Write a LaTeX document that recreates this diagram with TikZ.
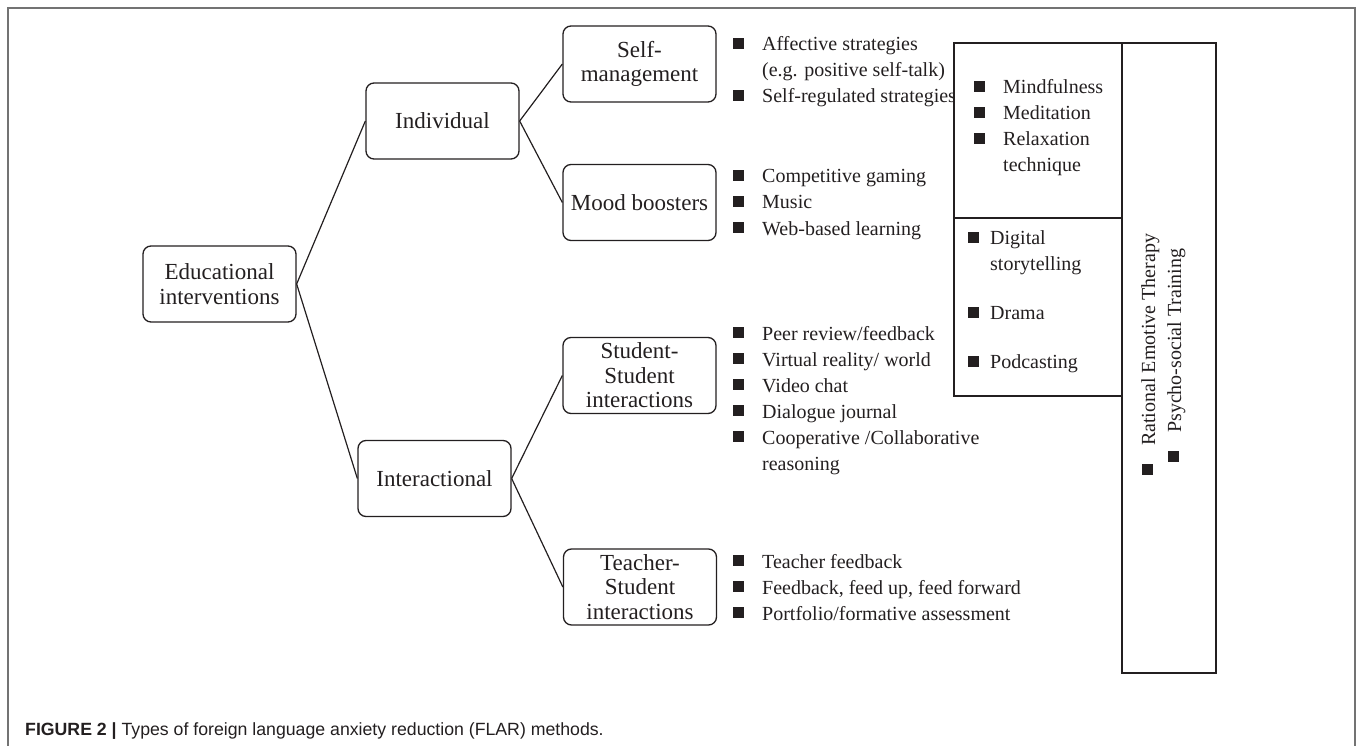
\documentclass[tikz,border=0pt]{standalone}
\usepackage{fontspec}
\setmainfont{Liberation Serif}
\newfontfamily\capfont{Liberation Sans}
\definecolor{ink}{HTML}{231F20}
\newcommand{\bul}{\makebox[29pt][l]{\raisebox{2pt}{\rule{11pt}{11pt}}}}
\newcommand{\bulb}{\makebox[22pt][l]{\raisebox{1.5pt}{\rule{11pt}{11pt}}}}
\begin{document}
\begin{tikzpicture}[x=1pt,y=-1pt,
  box/.style={draw=ink, line width=1.3pt, rounded corners=8pt, minimum width=153pt, minimum height=76pt, inner sep=0pt, align=center, font=\fontsize{23}{24.5}\selectfont, text=ink},
  conn/.style={draw=ink, line width=1.2pt},
  item/.style={anchor=base west, inner sep=0pt, font=\fontsize{20}{26}\selectfont, text=ink},
  panel/.style={draw=ink, line width=1.2pt},
  frame/.style={draw=black!55, line width=1.5pt}]
\useasboundingbox (0,0) rectangle (1357,746);
\draw[frame] (8,746) -- (8,8) -- (1355,8) -- (1355,746);

\node[box] (edu) at (219.5,284) {Educational\\interventions};
\node[box] (ind) at (442.5,121) {Individual};
\node[box] (int) at (434.5,478.5) {Interactional};
\node[box] (self) at (639.5,64) {Self-\\management};
\node[box] (mood) at (639.5,202.5) {Mood boosters};
\node[box] (ss) at (639.5,375.5) {Student-\\Student\\interactions};
\node[box] (ts) at (640,587) {Teacher-\\Student\\interactions};

\draw[conn] (edu.east) -- (ind.west);
\draw[conn] (edu.east) -- (int.west);
\draw[conn] (ind.east) -- (self.west);
\draw[conn] (ind.east) -- (mood.west);
\draw[conn] (int.east) -- (ss.west);
\draw[conn] (int.east) -- (ts.west);

\node[item] (a1) at (733,51) {\bul Affective strategies};
\node[item] (a2) at (762,77) {(e.g. positive self-talk)};
\node[item] (a3) at (733,103) {\bul Self-regulated strategies};

\node[item] (m1) at (733,183) {\bul Competitive gaming};
\node[item] (m2) at (733,209) {\bul Music};
\node[item] (m3) at (733,235) {\bul Web-based learning};

\node[item] (s1) at (733,340) {\bul Peer review/feedback};
\node[item] (s2) at (733,366) {\bul Virtual reality/ world};
\node[item] (s3) at (733,392) {\bul Video chat};
\node[item] (s4) at (733,418) {\bul Dialogue journal};
\node[item] (s5) at (733,444) {\bul Cooperative /Collaborative};
\node[item] (s6) at (762,470) {reasoning};

\node[item] (t1) at (733,568) {\bul Teacher feedback};
\node[item] (t2) at (733,594) {\bul Feedback, feed up, feed forward};
\node[item] (t3) at (733,620) {\bul Portfolio/formative assessment};

\draw[panel] (954,43) rectangle (1122,396);
\draw[panel] (954,218) -- (1122,218);
\draw[panel] (1122,43) rectangle (1216,673);

\node[item] (p1) at (974,94) {\bul Mindfulness};
\node[item] (p2) at (974,120) {\bul Meditation};
\node[item] (p3) at (974,146) {\bul Relaxation};
\node[item] (p4) at (1003,172) {technique};

\node[item] (q1) at (968,244) {\bulb Digital};
\node[item] (q2) at (990,270) {storytelling};
\node[item] (q3) at (968,319) {\bulb Drama};
\node[item] (q4) at (968,368) {\bulb Podcasting};

\node[item, rotate=90] (r1) at (1155,475) {\bul Rational Emotive Therapy};
\node[item, rotate=90] (r2) at (1181,462) {\bul Psycho-social Training};

\node[anchor=base west, inner sep=0pt, font=\capfont\fontsize{17.7}{20}\selectfont, text=ink] (cap) at (25,735) {\textbf{FIGURE 2 |} Types of foreign language anxiety reduction (FLAR) methods.};
\end{tikzpicture}
\end{document}
